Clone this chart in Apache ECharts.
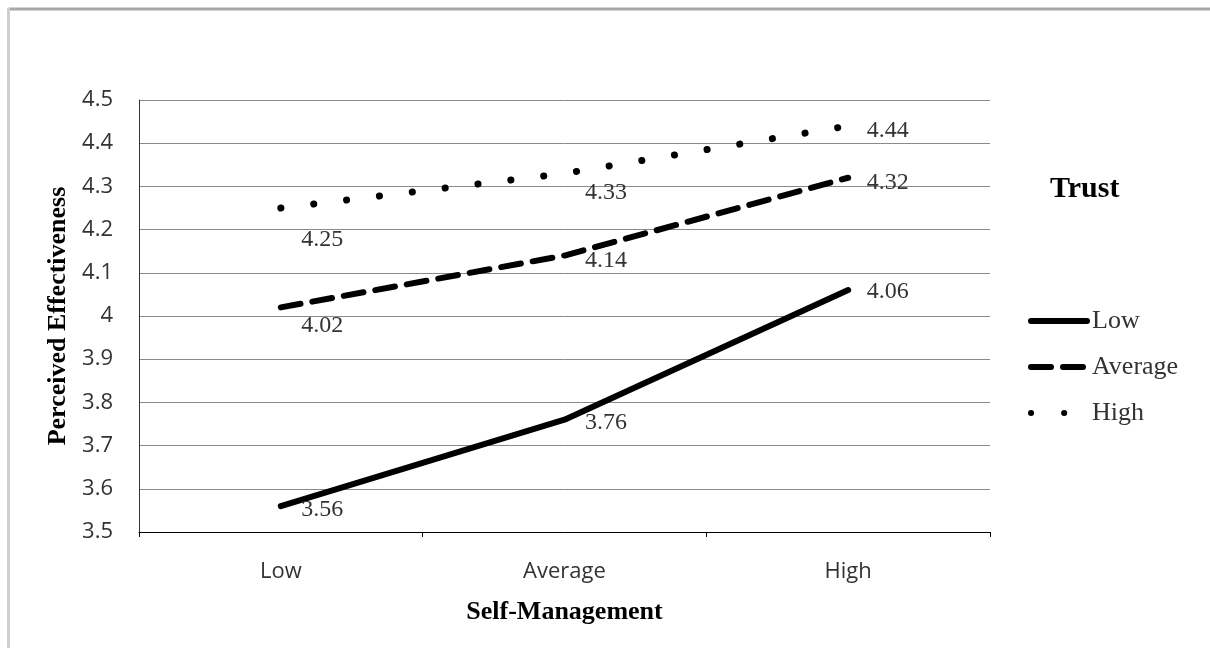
<!DOCTYPE html>
<html>
<head>
<meta charset="utf-8">
<script src="https://cdn.jsdelivr.net/npm/echarts@6/dist/echarts.min.js"></script>
<style>
html,body{margin:0;padding:0;background:#fff;}
#chart{width:1210px;height:648px;}
</style>
</head>
<body>
<div id="chart"></div>
<script>
// ---- data ----
const categories = ['Low', 'Average', 'High'];
const seriesNames = ['Low', 'Average', 'High'];
const lowTrust = [3.56, 3.76, 4.06];
const averageTrust = [4.02, 4.14, 4.32];
const highTrust = [4.25, 4.33, 4.44];
const yMin = 3.5, yMax = 4.5, yStep = 0.1;

// label offsets (style only)
const lowOffsets = [[0, 4], [0, 3], [-2, 2]];
const avgOffsets = [[0, 18], [0, 5], [-2, 5]];
const highOffsets = [[0, 32], [0, 19], [-2, 5]];

const serif = '"Liberation Serif", "DejaVu Serif", serif';
const sans = '"Open Sans", "Liberation Sans", sans-serif';

function mkData(vals, offs) {
  return vals.map((v, i) => ({
    value: v,
    label: { offset: offs[i] }
  }));
}

function mkSeries(name, vals, offs, lineStyle) {
  return {
    name: name,
    type: 'line',
    data: mkData(vals, offs),
    symbol: 'circle',
    symbolSize: 1,
    itemStyle: { color: 'rgba(0,0,0,0)' },
    lineStyle: Object.assign({ color: '#000' }, lineStyle),
    label: {
      show: true,
      position: 'right',
      distance: 20,
      fontFamily: serif,
      fontSize: 24,
      color: '#333',
      formatter: p => p.value.toFixed(2)
    },
    emphasis: { disabled: true },
    animation: false
  };
}

const chart = echarts.init(document.getElementById('chart'), null, { renderer: 'canvas' });
chart.setOption({
  animation: false,
  backgroundColor: '#fff',
  graphic: [{
    type: 'line',
    shape: { x1: 8.5, y1: 9, x2: 1210, y2: 9 },
    style: { stroke: '#a8a8a8', lineWidth: 3 },
    z: 0
  }, {
    type: 'line',
    shape: { x1: 8.5, y1: 8, x2: 8.5, y2: 648 },
    style: { stroke: '#cfcfcf', lineWidth: 3 },
    z: 0
  }],
  title: {
    text: 'Trust',
    left: 1045, top: 169,
    textStyle: { fontFamily: serif, fontSize: 30, fontWeight: 'bold', color: '#000' }
  },
  legend: {
    data: seriesNames,
    orient: 'vertical',
    left: 1023, top: 303,
    padding: 5,
    itemWidth: 56, itemHeight: 16,
    itemGap: 20,
    lineStyle: { width: 6, cap: 'round' },
    textStyle: { fontFamily: serif, fontSize: 26, color: '#333' },
    selectedMode: false
  },
  grid: { left: 139, right: 220, top: 100, bottom: 116 },
  xAxis: {
    type: 'category',
    data: categories,
    boundaryGap: true,
    name: 'Self-Management',
    nameLocation: 'middle',
    nameGap: 67,
    nameTextStyle: { fontFamily: serif, fontSize: 26, fontWeight: 'bold', color: '#000' },
    axisLine: { lineStyle: { color: '#000', width: 1 } },
    axisTick: { show: true, length: 5, lineStyle: { color: '#000' } },
    axisLabel: { fontFamily: sans, fontSize: 22, color: '#333', margin: 29 },
    splitLine: { show: false }
  },
  yAxis: {
    type: 'value',
    min: yMin, max: yMax, interval: yStep,
    name: 'Perceived Effectiveness',
    nameLocation: 'middle',
    nameGap: 61,
    nameTextStyle: { fontFamily: serif, fontSize: 26, fontWeight: 'bold', color: '#000' },
    axisLine: { show: true, lineStyle: { color: '#333', width: 1 } },
    axisTick: { show: false },
    axisLabel: { fontFamily: sans, fontSize: 22, color: '#333', margin: 26,
      formatter: v => String(Math.round(v * 10) / 10) },
    splitLine: { show: true, lineStyle: { color: '#8a8a8a', width: 1 } }
  },
  series: [
    mkSeries('Low', lowTrust, lowOffsets, { width: 6, type: 'solid', cap: 'round' }),
    mkSeries('Average', averageTrust, avgOffsets, { width: 6, type: [20, 12], cap: 'round' }),
    mkSeries('High', highTrust, highOffsets, { width: 7, type: [0.1, 33], cap: 'round' })
  ]
});
</script>
</body>
</html>
